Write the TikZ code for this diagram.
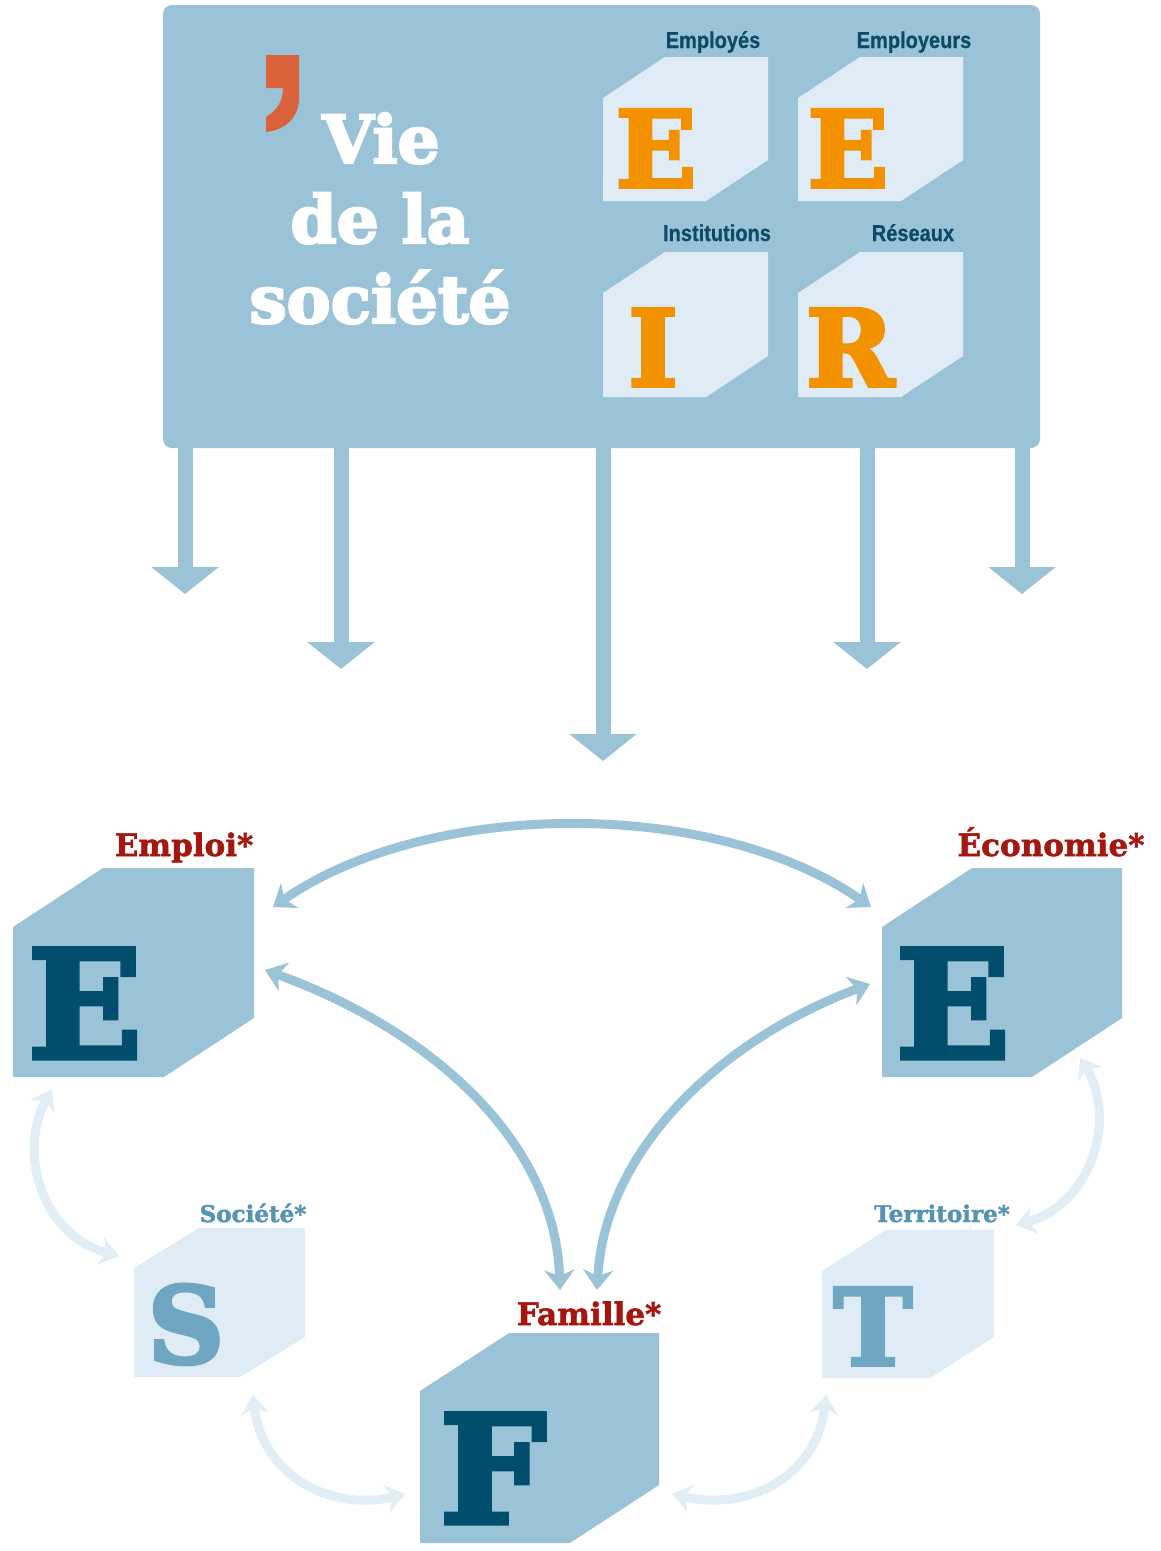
\documentclass[tikz,border=0pt]{standalone}
\usepackage{fontspec}
\setmainfont{DejaVu Serif}
\newfontfamily\slab{DejaVu Serif Bold}[FakeBold=1.8]
\newfontfamily\slabheavy{DejaVu Serif Bold}[FakeBold=3.5]
\newfontfamily\cond{Liberation Sans Bold}[FakeStretch=0.87,FakeBold=0.6]
\usetikzlibrary{arrows.meta}
\definecolor{medblue}{HTML}{9BC3D7}
\definecolor{lightcube}{HTML}{DFECF5}
\definecolor{orangeL}{HTML}{F39200}
\definecolor{commaC}{HTML}{D9623B}
\definecolor{darktext}{HTML}{0D4A66}
\definecolor{darkletter}{HTML}{004E6C}
\definecolor{redlabel}{HTML}{A4170F}
\definecolor{softlabel}{HTML}{5593B3}
\definecolor{softletter}{HTML}{6FA7C3}
\definecolor{lightarrow}{HTML}{E2EEF6}
\newcommand\cubeshape[7]{%
  \fill[#1] (#2,#3+#7) -- (#2+#6,#3) -- (#4,#3) -- (#4,#5-#7) -- (#4-#6,#5) -- (#2,#5) -- cycle;}
\begin{document}
\begin{tikzpicture}[x=1pt,y=-1pt,
  panelbox/.style={fill=medblue, rounded corners=9pt, minimum width=877pt, minimum height=443pt, inner sep=0},
  downarrow/.style={draw=medblue, line width=15pt, -{Triangle[length=27pt,width=66pt]}},
  darkconn/.style={draw=medblue, line width=9pt, <->, >={Stealth[length=20pt,width=30pt,inset=6pt]}},
  lightconn/.style={draw=lightarrow, line width=9pt, <->, >={Stealth[length=19pt,width=28pt,inset=6pt]}},
  biglet/.style={inner sep=0, anchor=base, text depth=0pt, font=\slabheavy\fontsize{150}{150}\selectfont, text=darkletter},
  midlet/.style={inner sep=0, anchor=base, text depth=0pt, font=\slabheavy\fontsize{106}{106}\selectfont},
  toplabel/.style={inner sep=0, anchor=base, text=darktext, font=\cond\fontsize{23}{23}\selectfont},
  redlab/.style={inner sep=0, anchor=base, text=redlabel, font=\slab\fontsize{31}{31}\selectfont},
  softlab/.style={inner sep=0, anchor=base, text=softlabel, font=\slab\fontsize{23}{23}\selectfont},
  vietext/.style={inner sep=0, anchor=base, text=white, font=\slabheavy\fontsize{66}{66}\selectfont}
]
\useasboundingbox (0,0) rectangle (1161,1551);

% ---------- top panel ----------
\node[panelbox] (panel) at (601.5,226.5) {};

% comma
\fill[commaC] (266,55) -- (299,55) -- (299,100) .. controls (298,118) and (285,130) .. (266,132)
  -- (266,117) .. controls (278,110) and (283,100) .. (283,88) -- (266,88) -- cycle;

\node[vietext] (vie) at (381,163) {Vie};
\node[vietext] (dela) at (380,243) {de la};
\node[vietext] (soc) at (380,323) {société};

% small cubes
\cubeshape{lightcube}{603}{57}{768}{201}{62}{41}
\cubeshape{lightcube}{798}{57}{963}{201}{62}{41}
\cubeshape{lightcube}{603}{252}{768}{397}{62}{41}
\cubeshape{lightcube}{798}{252}{963}{397}{62}{41}

\node[toplabel] (lemployes) at (713,48) {Employés};
\node[toplabel] (lemployeurs) at (914,48) {Employeurs};
\node[toplabel] (linstit) at (717,241) {Institutions};
\node[toplabel] (lreseaux) at (913,241) {Réseaux};

\node[midlet, text=orangeL] (oE1) at (656,187) {E};
\node[midlet, text=orangeL] (oE2) at (848,187) {E};
\node[midlet, text=orangeL] (oI) at (653,386) {I};
\node[midlet, text=orangeL] (oR) at (850,386) {R};

% down arrows
\foreach \n/\x/\t in {1/185/594, 2/341/669, 3/603/761, 4/867/669, 5/1022/594}{
  \coordinate (ds\n) at (\x,440);
  \coordinate (de\n) at (\x,\t);
  \draw[downarrow] (ds\n) -- (de\n);
}

% ---------- bottom cubes ----------
\cubeshape{medblue}{13}{868}{254}{1077}{90}{59}
\cubeshape{medblue}{882}{868}{1122}{1077}{90}{59}
\cubeshape{medblue}{420}{1333}{659}{1543}{89}{58}
\cubeshape{lightcube}{134}{1228}{305}{1377}{65}{40}
\cubeshape{lightcube}{822}{1230}{994}{1378}{64}{41}

\node[biglet] (bE1) at (85,1058) {E};
\node[biglet] (bE2) at (953,1058) {E};
\node[biglet] (bF) at (493,1523) {F};
\node[midlet, text=softletter] (bS) at (186,1363) {S};
\node[midlet, text=softletter] (bT) at (873,1365) {T};

\node[redlab] (lemploi) at (184,856) {Emploi*};
\node[redlab] (leco) at (1051,856) {Économie*};
\node[redlab] (lfam) at (589,1325) {Famille*};
\node[softlab] (lsoc) at (253,1222) {Société*};
\node[softlab] (lter) at (942,1222) {Territoire*};

% ---------- connectors ----------
\coordinate (emTop) at (273,907);
\coordinate (ecTop) at (871,907);
\coordinate (emMid) at (265,970);
\coordinate (ecMid) at (870,984);
\coordinate (faL) at (560,1290);
\coordinate (faR) at (597,1290);

\draw[darkconn] (emTop) .. controls (430,798) and (715,798) .. (ecTop);
\draw[darkconn] (emMid) .. controls (430,1030) and (555,1140) .. (faL);
\draw[darkconn] (ecMid) .. controls (720,1040) and (605,1150) .. (faR);

\coordinate (emBot) at (52,1090);
\coordinate (socL) at (119,1256);
\coordinate (ecBot) at (1080,1058);
\coordinate (terR) at (1016,1225);
\coordinate (socBot) at (253,1395);
\coordinate (faBL) at (405,1494);
\coordinate (terBot) at (826,1395);
\coordinate (faBR) at (672,1494);

\draw[lightconn] (emBot) .. controls (18,1150) and (40,1235) .. (socL);
\draw[lightconn] (ecBot) .. controls (1118,1120) and (1090,1205) .. (terR);
\draw[lightconn] (socBot) .. controls (262,1475) and (330,1512) .. (faBL);
\draw[lightconn] (terBot) .. controls (817,1475) and (750,1512) .. (faBR);
\end{tikzpicture}
\end{document}
